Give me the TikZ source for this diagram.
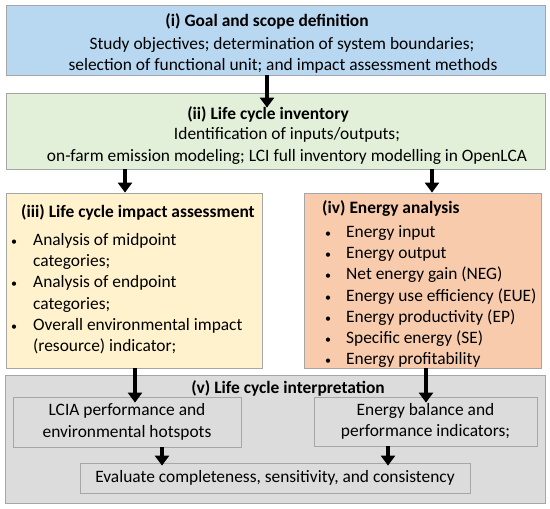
\documentclass[tikz,border=0pt]{standalone}
\usepackage{fontspec}
\setmainfont{Carlito}
\usetikzlibrary{arrows.meta}
\definecolor{goalblue}{HTML}{B8D7F0}
\definecolor{lcigreen}{HTML}{E2F0D9}
\definecolor{lciayellow}{HTML}{FFF2CC}
\definecolor{energyorange}{HTML}{F8CBAD}
\definecolor{interpgray}{HTML}{DCDCDC}
\definecolor{boxgray}{HTML}{A6A6A6}
\newcommand{\listdot}{{\fontsize{12}{12}\selectfont\textbullet}}
\begin{document}
\begin{tikzpicture}[x=1pt,y=-1pt,
  box/.style={draw=boxgray, line width=0.8pt, inner sep=0pt},
  txt/.style={inner sep=0pt, font=\fontsize{17.4}{21.3}\selectfont},
  flow/.style={line width=4.5pt, -{Triangle[length=10pt,width=14pt]}}]
\useasboundingbox (0,0) rectangle (550,509);
\node[box, fill=goalblue, minimum width=539, minimum height=70] (goal) at (275.5,40){};
\node[txt, anchor=base, font=\fontsize{17.4}{21.3}\selectfont\bfseries] (goaltitle) at (267,26){(i) Goal and scope definition};
\node[txt, anchor=base] (goalline1) at (282,49.5){Study objectives; determination of system boundaries;};
\node[txt, anchor=base] (goalline2) at (283,70.5){selection of functional unit; and impact assessment methods};
\node[box, fill=lcigreen, minimum width=539, minimum height=76] (lci) at (275.5,131){};
\node[txt, anchor=base, font=\fontsize{17.4}{21.3}\selectfont\bfseries] (lcititle) at (268,119){(ii) Life cycle inventory};
\node[txt, anchor=base] (lciline1) at (287,139.5){Identification of inputs/outputs;};
\node[txt, anchor=base] (lciline2) at (287,161){on-farm emission modeling; LCI full inventory modelling in OpenLCA};
\node[box, fill=lciayellow, minimum width=256, minimum height=175] (iaa) at (134,280.5){};
\node[txt, anchor=base west, font=\fontsize{17.4}{21.3}\selectfont\bfseries] (iaatitle) at (21,217){(iii) Life cycle impact assessment};
\node[txt, anchor=north west] (iaalist) at (11,230){\begin{tabular}{@{}p{22pt}@{}l@{}}
\listdot & Analysis of midpoint\\
 & categories;\\
\listdot & Analysis of endpoint\\
 & categories;\\
\listdot & Overall environmental impact\\
 & (resource) indicator;
\end{tabular}};
\node[box, fill=energyorange, minimum width=237, minimum height=175] (ea) at (422.5,280.5){};
\node[txt, anchor=base west, font=\fontsize{17.4}{21.3}\selectfont\bfseries] (eatitle) at (322,213){(iv) Energy analysis};
\node[txt, anchor=north west] (ealist) at (325,222){\begin{tabular}{@{}p{21pt}@{}l@{}}
\listdot & Energy input\\
\listdot & Energy output\\
\listdot & Net energy gain (NEG)\\
\listdot & Energy use efficiency (EUE)\\
\listdot & Energy productivity (EP)\\
\listdot & Specific energy (SE)\\
\listdot & Energy profitability
\end{tabular}};
\node[box, fill=interpgray, minimum width=540, minimum height=128] (interp) at (275,439){};
\node[txt, anchor=base, font=\fontsize{17.4}{21.3}\selectfont\bfseries] (interptitle) at (288,393){(v) Life cycle interpretation};
\node[box, txt, fill=interpgray, align=center, minimum width=228, minimum height=50] (lcia) at (127,422){LCIA performance and\\environmental hotspots};
\node[box, txt, fill=interpgray, align=center, minimum width=223, minimum height=49] (ebal) at (425.5,421.5){Energy balance and\\performance indicators;};
\node[box, txt, fill=interpgray, minimum width=390, minimum height=30] (eval) at (275,478){Evaluate completeness, sensitivity, and consistency};
\draw[flow] ([xshift=-8.5]goal.south) -- ([xshift=-8.5,yshift=-15]lci.north);
\draw[flow] ([xshift=-150.5]lci.south) -- ([xshift=-9]iaa.north);
\draw[flow] ([xshift=156.5]lci.south) -- ([xshift=9.5]ea.north);
\draw[flow] ([xshift=1]iaa.south) -- ([xshift=8,yshift=-6]lcia.north);
\draw[flow] ([xshift=3.5]ea.south) -- ([xshift=0.5,yshift=-6]ebal.north);
\draw[flow] ([xshift=35]lcia.south) -- ([xshift=-113,yshift=-3]eval.north);
\draw[flow] ([xshift=-37.5]ebal.south) -- ([xshift=113,yshift=-3]eval.north);
\end{tikzpicture}
\end{document}
